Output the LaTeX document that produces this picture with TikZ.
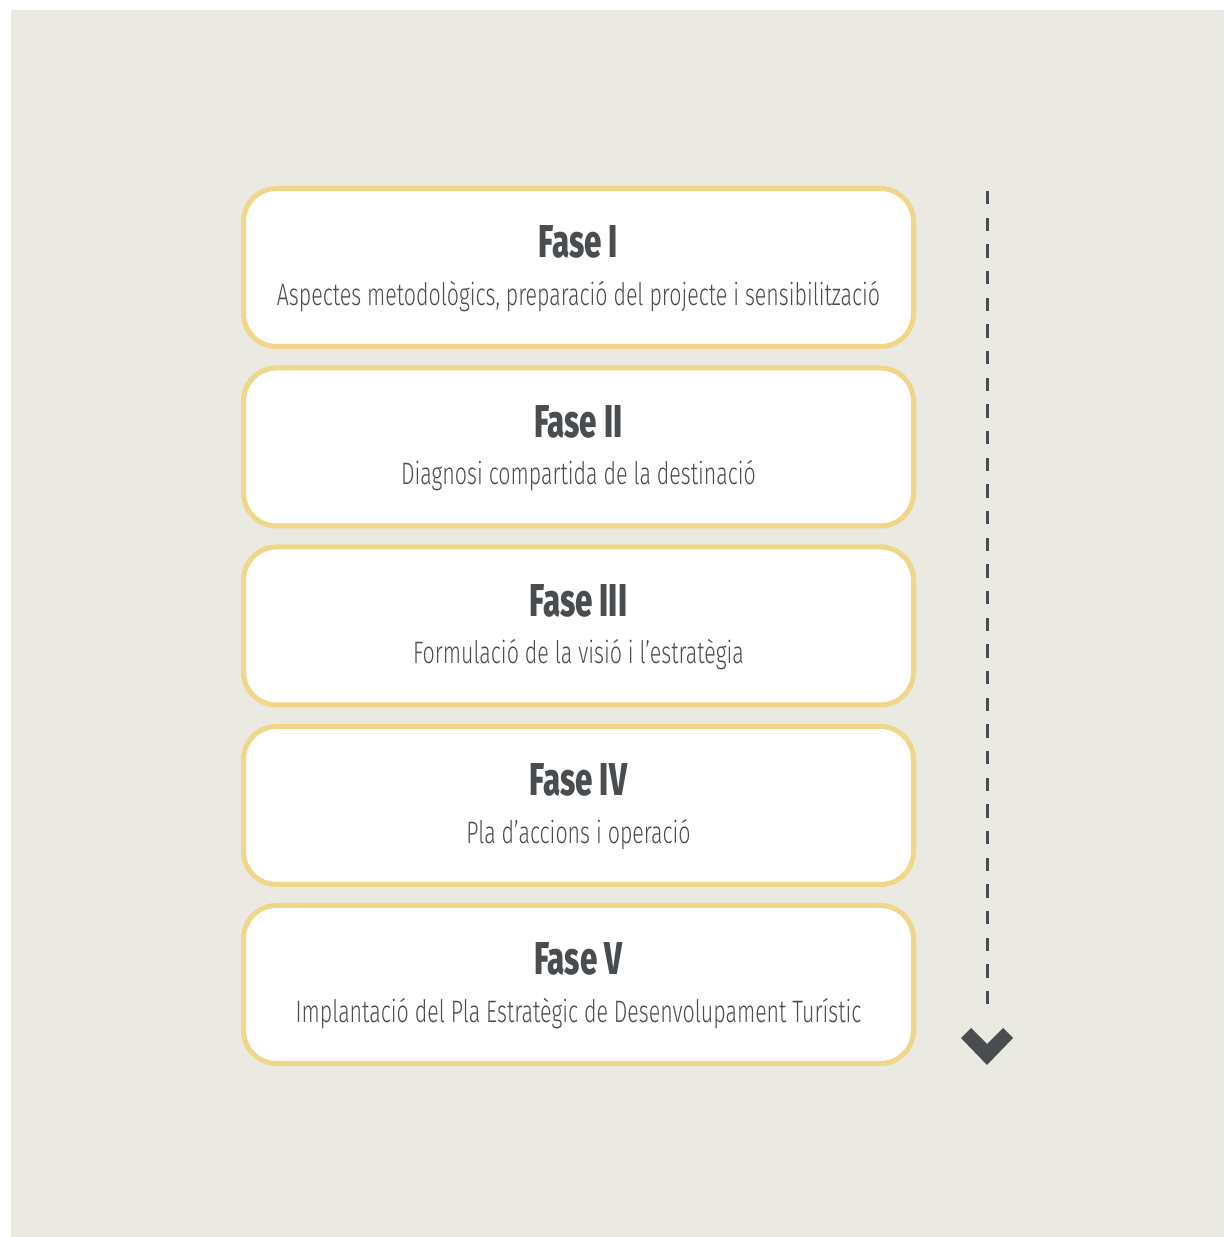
\documentclass[tikz,border=0pt]{standalone}
\usepackage{fontspec}
\newfontfamily\titlefont[FakeStretch=0.68]{Fira Sans ExtraBold}
\newfontfamily\bodyfont[FakeStretch=0.69]{Fira Sans Light}
\definecolor{pagebg}{HTML}{EAE9E2}
\definecolor{boxedge}{HTML}{F0D688}
\definecolor{ink}{HTML}{4A4D50}
\tikzset{
  phasebox/.style={draw=boxedge, line width=5pt, fill=white, rounded corners=33pt,
    minimum width=670pt, minimum height=158pt, inner sep=0pt, outer sep=0pt},
  phasetitle/.style={anchor=base, text=ink, inner sep=0pt, font=\titlefont\fontsize{46}{50}\selectfont},
  phasetext/.style={anchor=base, text=ink, inner sep=0pt, font=\bodyfont\fontsize{31}{34}\selectfont},
  timeline/.style={draw=ink, line width=3pt, dash pattern=on 13.3pt off 13.37pt},
}
\begin{document}
\begin{tikzpicture}[x=1pt,y=1pt]
  \useasboundingbox (0,0) rectangle (1224,1237);
  \fill[pagebg] (11,0) rectangle (1224,1227);

  % the five phase boxes, top to bottom
  \foreach \n/\yc in {1/267.5, 2/447, 3/626, 4/805.5, 5/984.5}{
    \node[phasebox] (f\n) at (578.5,1237-\yc) {};
  }

  \node[phasetitle] (t1) at ([yshift=9.5pt]f1.center) {Fase I};
  \node[phasetext]  (s1) at ([yshift=-38pt]f1.center) {Aspectes metodològics, preparació del projecte i sensibilització};
  \node[phasetitle] (t2) at ([yshift=9.5pt]f2.center) {Fase II};
  \node[phasetext]  (s2) at ([yshift=-38pt]f2.center) {Diagnosi compartida de la destinació};
  \node[phasetitle] (t3) at ([yshift=9.5pt]f3.center) {Fase III};
  \node[phasetext]  (s3) at ([yshift=-38pt]f3.center) {Formulació de la visió i l’estratègia};
  \node[phasetitle] (t4) at ([yshift=9.5pt]f4.center) {Fase IV};
  \node[phasetext]  (s4) at ([yshift=-38pt]f4.center) {Pla d’accions i operació};
  \node[phasetitle] (t5) at ([yshift=9.5pt]f5.center) {Fase V};
  \node[phasetext]  (s5) at ([yshift=-38pt]f5.center) {Implantació del Pla Estratègic de Desenvolupament Turístic};

  % dashed time line ending in a chevron
  \coordinate (linetop) at (987,1237-191);
  \coordinate (linebot) at (987,1237-1004);
  \draw[timeline] (linetop) -- (linebot);
  \fill[ink] (961,1237-1038) -- (971,1237-1028) -- (987,1237-1044) -- (1003,1237-1028)
    -- (1013,1237-1038) -- (987,1237-1065) -- cycle;
\end{tikzpicture}
\end{document}
